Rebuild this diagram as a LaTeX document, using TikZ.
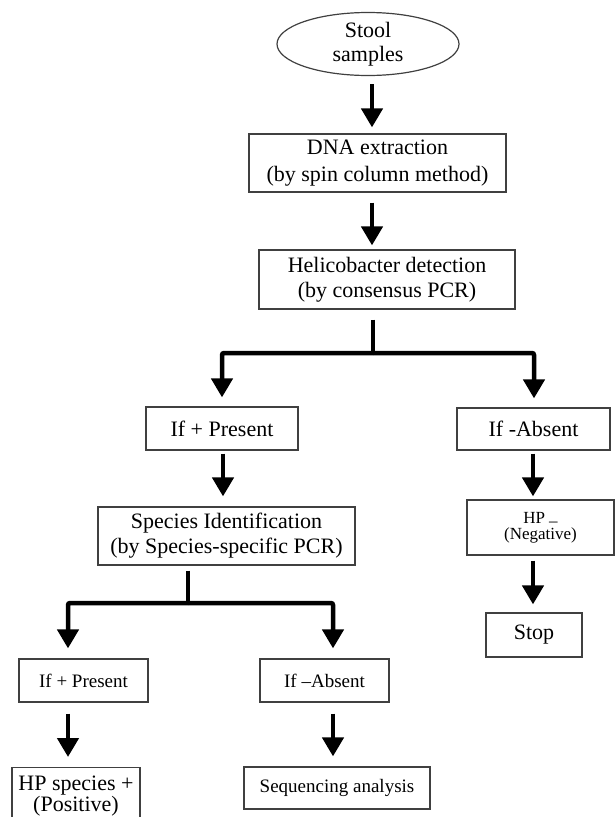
\documentclass[tikz,border=0pt]{standalone}
\usepackage{fontspec}
\setmainfont{Liberation Serif}
\usetikzlibrary{arrows.meta,shapes.geometric}
\begin{document}
\begin{tikzpicture}[x=1pt,y=-1pt,
  boxst/.style={draw=black!75,line width=1.2pt,rectangle,inner sep=0pt,align=center,
     font=\fontsize{22}{25}\selectfont},
  small/.style={font=\fontsize{19}{22}\selectfont},
  arr/.style={line width=4.5pt,-{Triangle[width=21pt,length=19pt]}},
  branch/.style={line width=4.5pt,rounded corners=2pt,-{Triangle[width=21pt,length=19pt]}},
  stem/.style={line width=4.5pt}]
\useasboundingbox (0,0) rectangle (615,817);
\clip (0,0) rectangle (615,817);
\fill[white] (0,0) rectangle (615,817);
% nodes
\node[boxst,ellipse,minimum width=182pt,minimum height=63pt,
      font=\fontsize{22}{24}\selectfont] (ell) at (368,44) {Stool\\samples};
\node[boxst,minimum width=257pt,minimum height=58pt,
      font=\fontsize{22}{27}\selectfont] (dna) at (377.5,163) {DNA extraction\\(by spin column method)};
\node[boxst,minimum width=256pt,minimum height=59pt] (heli) at (387,279.5) {Helicobacter detection\\(by consensus PCR)};
\node[boxst,minimum width=152pt,minimum height=43pt] (pres1) at (222,428.5) {If + Present};
\node[boxst,minimum width=153pt,minimum height=42pt] (abs1) at (533.5,429) {If -Absent};
\node[boxst,minimum width=147pt,minimum height=55pt,
      font=\fontsize{17}{16}\selectfont] (hpneg) at (540.5,527.5) {HP \raisebox{-3pt}{–}\\(Negative)};
\node[boxst,minimum width=96pt,minimum height=44pt] (stop) at (534,635) {Stop};
\node[boxst,minimum width=257pt,minimum height=58pt] (spec) at (226.5,536) {Species Identification\\(by Species-specific PCR)};
\node[boxst,small,minimum width=129pt,minimum height=43pt] (pres2) at (83.5,680.5) {If + Present};
\node[boxst,small,minimum width=129pt,minimum height=43pt] (abs2) at (324.5,680.5) {If –Absent};
\node[boxst,minimum width=128pt,minimum height=63pt,anchor=north] (hpsp) at (76,767) {};
\node[align=center,inner sep=0pt,font=\fontsize{22}{19}\selectfont,anchor=base] (hpspt) at (76,811) {HP species +\\(Positive)};
\node[boxst,small,minimum width=186pt,minimum height=42pt] (seq) at (337,788) {Sequencing analysis};
% connectors
\draw[arr] (ell.south -| 372,0) ++(0,8) -- ([yshift=6pt]dna.north -| 372,0);
\draw[arr] (dna.south -| 372,0) ++(0,10) -- ([yshift=4pt]heli.north -| 372,0);
\coordinate (j1) at (373,353);
\draw[stem] ([yshift=-10pt]heli.south -| j1) -- (j1);
\draw[branch] (j1) -- (222,353) -- ([yshift=9pt]pres1.north -| 222,0);
\draw[branch] (j1) -- (534,353) -- ([yshift=9pt]abs1.north -| 534,0);
\draw[arr] ([yshift=-3pt]pres1.south -| 223,0) -- ([yshift=10pt]spec.north -| 223,0);
\draw[arr] ([yshift=-3pt]abs1.south -| 533,0) -- ([yshift=3pt]hpneg.north -| 533,0);
\draw[arr] ([yshift=-5pt]hpneg.south -| 533,0) -- ([yshift=8pt]stop.north -| 533,0);
\coordinate (j2) at (188,603);
\draw[stem] ([yshift=-5pt]spec.south -| j2) -- (j2);
\draw[branch] (j2) -- (68,603) -- ([yshift=10pt]pres2.north -| 68,0);
\draw[branch] (j2) -- (333,603) -- ([yshift=10pt]abs2.north -| 333,0);
\draw[arr] ([yshift=-11pt]pres2.south -| 68,0) -- ([yshift=10pt]hpsp.north -| 68,0);
\draw[arr] ([yshift=-11pt]abs2.south -| 333,0) -- ([yshift=10pt]seq.north -| 333,0);
\end{tikzpicture}
\end{document}
